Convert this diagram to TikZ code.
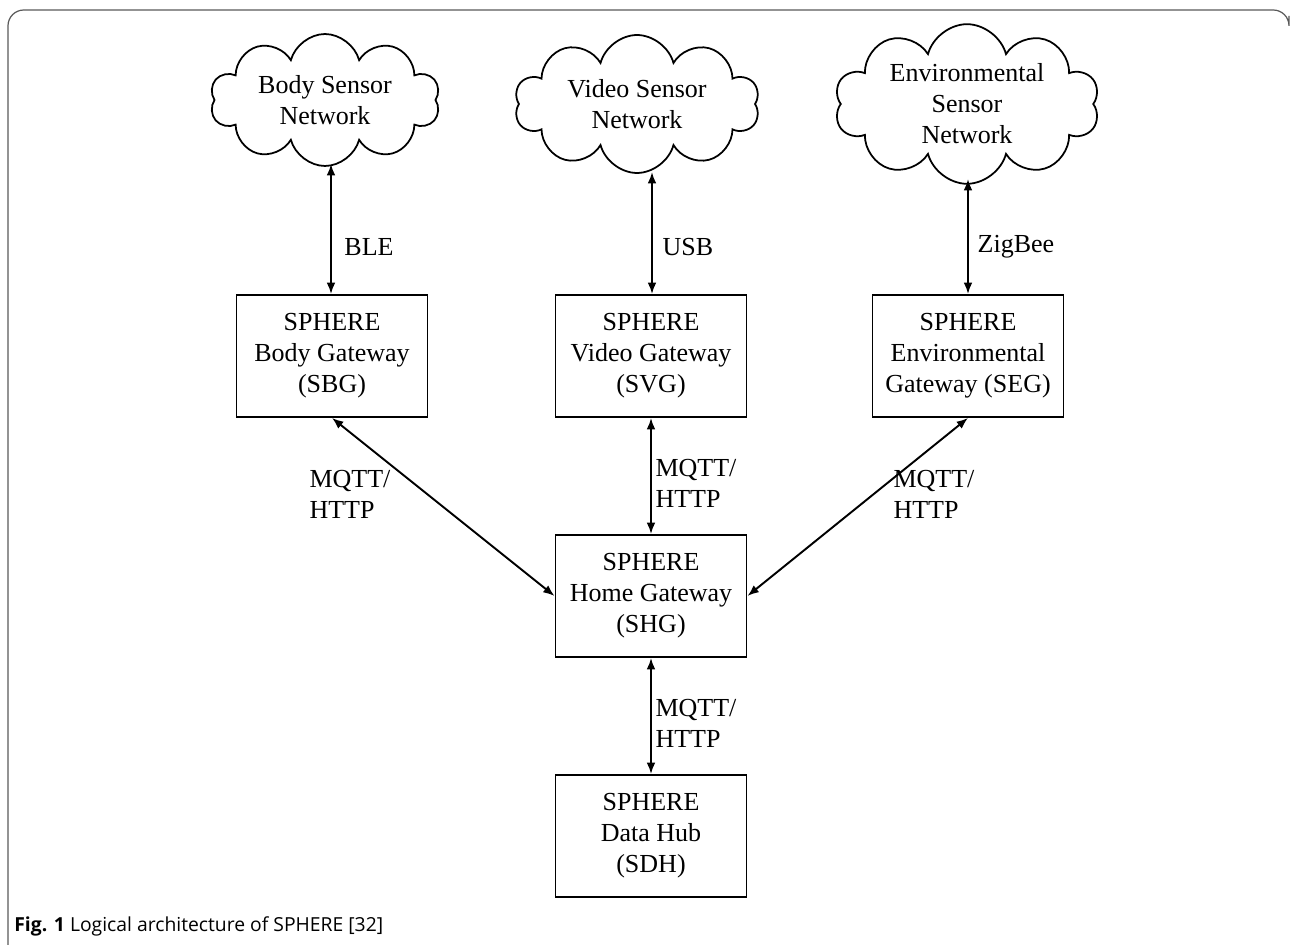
\documentclass[tikz,border=0pt]{standalone}
\usepackage{fontspec}
\setmainfont{Liberation Serif}
\newfontfamily\capfont{Open Sans}
\usepackage{tikz}
\usetikzlibrary{shapes.symbols,arrows.meta}

\tikzset{
  netcloud/.style={cloud, cloud puffs=10, cloud ignores aspect, draw, line width=1pt,
    inner sep=0pt, align=center, font=\fontsize{14.8}{17.6}\selectfont},
  gwbox/.style={draw, line width=1.1pt, minimum width=3.82cm, minimum height=2.44cm,
    align=center, font=\fontsize{14.8}{17.6}\selectfont},
  link/.style={line width=1.1pt, {Latex[length=6.5pt,width=5pt]}-{Latex[length=6.5pt,width=5pt]}},
  proto/.style={align=left, inner sep=0pt, font=\fontsize{14.8}{17.6}\selectfont}
}

\begin{document}
\begin{tikzpicture}[x=0.02cm, y=-0.02cm]
    \useasboundingbox (0,0) rectangle (1292,945);
    % Frame
    \draw[black!65, line width=0.7pt, rounded corners=9] (8,950) -- (8,10) -- (1289,10) -- (1289,16);

    % Sensor networks
    \node[netcloud, minimum width=4.6cm, minimum height=2.64cm] (bsn) at (325,100) {Body Sensor\\Network};
    \node[netcloud, minimum width=4.9cm, minimum height=2.76cm] (vsn) at (637,104) {Video Sensor\\Network};
    \node[netcloud, minimum width=5.3cm, minimum height=3.0cm] (esn) at (967,104) {Environmental\\Sensor\\Network};
    \coordinate (bsnb) at (331,164);
    \coordinate (vsnb) at (652,172);
    \coordinate (esnb) at (968,179);

    % Gateways
    \node[gwbox] (sbg) at (332,356) {SPHERE\\Body Gateway\\(SBG)};
    \node[gwbox] (svg) at (651,356) {SPHERE\\Video Gateway\\(SVG)};
    \node[gwbox] (seg) at (968,356) {SPHERE\\Environmental\\Gateway (SEG)};
    \node[gwbox] (shg) at (651,596) {SPHERE\\Home Gateway\\(SHG)};
    \node[gwbox] (sdh) at (651,836) {SPHERE\\Data Hub\\(SDH)};

    % Links
    \draw[link] (sbg.north -| bsnb) -- (bsnb);
    \draw[link] (svg.north -| vsnb) -- (vsnb);
    \draw[link] (seg.north -| esnb) -- (esnb);
    \draw[link] (sbg.south) -- (shg.west);
    \draw[link] (svg.south) -- (shg.north);
    \draw[link] (seg.south) -- (shg.east);
    \draw[link] (shg.south) -- (sdh.north);

    % Protocols
    \node[proto] (ble) at (369,247) {BLE};
    \node[proto] (usb) at (688,247) {USB};
    \node[proto] (zig) at (1016,247) {ZigBee};
    \node[proto] (p1) at (350,494) {MQTT/\\HTTP};
    \node[proto] (p2) at (696,483) {MQTT/\\HTTP};
    \node[proto] (p3) at (934,494) {MQTT/\\HTTP};
    \node[proto] (p4) at (696,723) {MQTT/\\HTTP};

    % Caption
    \node[anchor=base west, inner sep=0pt, font=\capfont\fontsize{11}{13}\selectfont] (cap) at (14,931)
      {\textbf{Fig. 1} Logical architecture of SPHERE [32]};
\end{tikzpicture}
\end{document}
